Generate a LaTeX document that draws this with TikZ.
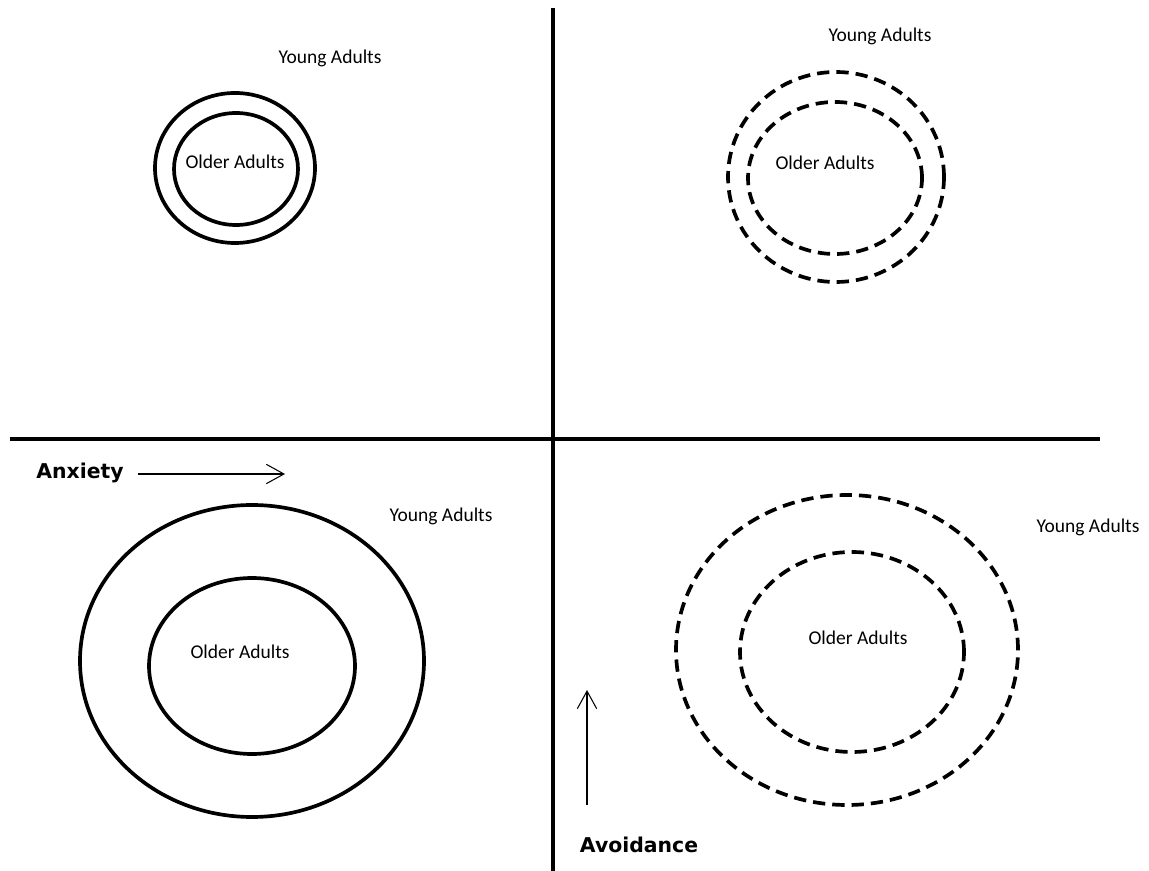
\documentclass[tikz,border=0pt]{standalone}
\usepackage{fontspec}
\setmainfont{Carlito}
\newfontfamily\axisfont{DejaVu Sans}
\usepackage{tikz}
\usetikzlibrary{positioning, arrows.meta}

\begin{document}
\begin{tikzpicture}[
  >={Straight Barb[length=10pt, width=11pt]},
  axis/.style={line width=2.3pt},
  ring/.style={line width=2.1pt},
  dring/.style={ring, dash pattern=on 7pt off 4pt},
  grp/.style={font=\fontsize{11.1}{13}\selectfont, inner sep=0pt},
  axlbl/.style={font=\axisfont\bfseries\fontsize{11.6}{14}\selectfont, inner sep=0pt},
  dirarr/.style={->, line width=0.6pt},
]
  \useasboundingbox (0,0) rectangle (22.98,-17.42);

% ===== Axes =====
  \coordinate (T) at (11.06,-0.16);
  \coordinate (B) at (11.06,-17.42);
  \coordinate (L) at (0.2,-8.78);
  \coordinate (R) at (22.0,-8.78);
  \draw[axis] (T) -- (B);
  \draw[axis] (L) -- (R);

% ===== Quadrant 1 (top left) : solid, small =====
  \draw[ring] (4.70,-3.36) ellipse (1.60 and 1.50);
  \draw[ring] (4.72,-3.38) ellipse (1.24 and 1.12);
  \node[grp] (O1) at (4.70,-3.24) {Older Adults};
  \node[grp] (Y1) at (6.60,-1.16) {Young Adults};

% ===== Quadrant 2 (top right) : dashed, small =====
  \draw[dring] (16.72,-3.54) ellipse (2.16 and 2.10);
  \draw[dring] (16.70,-3.56) ellipse (1.74 and 1.52);
  \node[grp] (O2) at (16.50,-3.26) {Older Adults};
  \node[grp] (Y2) at (17.60,-0.72) {Young Adults};

% ===== Quadrant 3 (bottom left) : solid, large =====
  \draw[ring] (5.04,-13.22) ellipse (3.44 and 3.12);
  \draw[ring] (5.04,-13.32) ellipse (2.06 and 1.76);
  \node[grp] (O3) at (4.80,-13.04) {Older Adults};
  \node[grp] (Y3) at (8.82,-10.32) {Young Adults};

% ===== Quadrant 4 (bottom right) : dashed, large =====
  \draw[dring] (16.94,-13.00) ellipse (3.42 and 3.10);
  \draw[dring] (17.04,-13.04) ellipse (2.24 and 2.00);
  \node[grp] (O4) at (17.16,-12.76) {Older Adults};
  \node[grp] (Y4) at (21.76,-10.54) {Young Adults};

% ===== Direction labels =====
  \node[axlbl] (anx) at (1.60,-9.46) {Anxiety};
  \coordinate (anxS) at (2.76,-9.48);
  \coordinate (anxE) at (5.70,-9.48);
  \draw[dirarr] (anxS) -- (anxE);
  \node[axlbl] (avo) at (12.78,-16.90) {Avoidance};
  \coordinate (avoS) at (11.74,-16.10);
  \coordinate (avoE) at (11.74,-13.80);
  \draw[dirarr] (avoS) -- (avoE);

\end{tikzpicture}
\end{document}
